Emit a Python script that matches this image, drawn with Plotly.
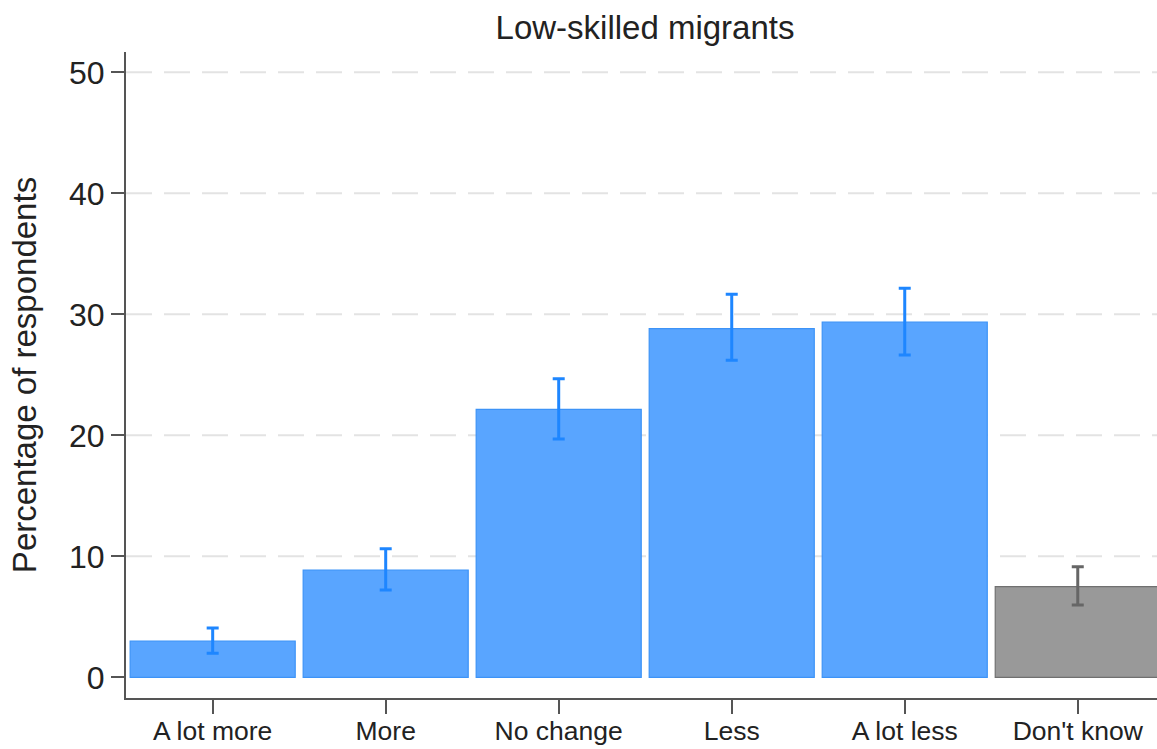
import plotly.graph_objects as go

# Survey responses: preferred change in number of low-skilled migrants
categories = ["A lot more", "More", "No change", "Less", "A lot less", "Don't know"]
percent = [3.0, 8.87, 22.15, 28.81, 29.35, 7.49]
ci_upper = [4.08, 10.63, 24.68, 31.65, 32.15, 9.14]
ci_lower = [1.98, 7.21, 19.69, 26.2, 26.64, 5.98]
y_ticks = [0, 10, 20, 30, 40, 50]
grid_levels = [10, 20, 30, 40, 50]

BLUE_FILL = "#59a5ff"
BLUE_EDGE = "#3d93f7"
BLUE_ERR = "#1e86ff"
GRAY_FILL = "#999999"
GRAY_EDGE = "#707070"
GRAY_ERR = "#666666"
AXIS = "#555555"
FONT = "Liberation Sans, Arial, Helvetica, sans-serif"

is_dk = [c == "Don't know" for c in categories]
fills = [GRAY_FILL if d else BLUE_FILL for d in is_dk]
edges = [GRAY_EDGE if d else BLUE_EDGE for d in is_dk]

fig = go.Figure()

# Bars (substantive answers in blue, "Don't know" in gray)
fig.add_trace(go.Bar(
    x=list(range(len(categories))),
    y=percent,
    width=0.954,
    marker=dict(color=fills, line=dict(color=edges, width=1.2)),
    showlegend=False,
    hoverinfo="skip",
))

# Confidence intervals drawn per colour group
for flag, col in [(False, BLUE_ERR), (True, GRAY_ERR)]:
    idx = [i for i, d in enumerate(is_dk) if d == flag]
    fig.add_trace(go.Scatter(
        x=idx,
        y=[percent[i] for i in idx],
        mode="markers",
        marker=dict(size=0.1, opacity=0),
        error_y=dict(
            type="data",
            symmetric=False,
            array=[ci_upper[i] - percent[i] for i in idx],
            arrayminus=[percent[i] - ci_lower[i] for i in idx],
            color=col,
            thickness=3,
            width=6,
        ),
        showlegend=False,
        hoverinfo="skip",
    ))

# Dashed horizontal reference lines
for g in grid_levels:
    fig.add_shape(
        type="line", xref="paper", yref="y", x0=0, x1=1, y0=g, y1=g,
        line=dict(color="#e3e3e3", width=2, dash="26px,12px"),
        layer="below",
    )

fig.update_layout(
    width=1157,
    height=749,
    margin=dict(l=126, r=0, t=52, b=51),
    paper_bgcolor="white",
    plot_bgcolor="white",
    font=dict(family=FONT, color="#222222"),
    title=dict(
        text="Low-skilled migrants",
        x=645 / 1157, xref="container", xanchor="center",
        y=1 - 27 / 749, yref="container", yanchor="middle",
        font=dict(size=33, color="#222222"),
    ),
    xaxis=dict(
        range=[-0.501, 5.458],
        tickmode="array",
        tickvals=list(range(len(categories))),
        ticktext=categories,
        tickfont=dict(size=26.5, color="#222222"),
        ticklabelstandoff=-6,
        showline=True, linecolor=AXIS, linewidth=2,
        ticks="outside", ticklen=14, tickwidth=2, tickcolor=AXIS,
        showgrid=False, zeroline=False, automargin=False,
    ),
    yaxis=dict(
        range=[-1.71, 51.68],
        tickmode="array",
        tickvals=y_ticks,
        tickfont=dict(size=32, color="#222222"),
        showline=True, linecolor=AXIS, linewidth=2,
        ticks="outside", ticklen=13, tickwidth=2, tickcolor=AXIS,
        showgrid=False, zeroline=False, automargin=False,
        title=dict(text="Percentage of respondents", font=dict(size=33, color="#222222"), standoff=22),
    ),
)

fig.write_html("out.html")
